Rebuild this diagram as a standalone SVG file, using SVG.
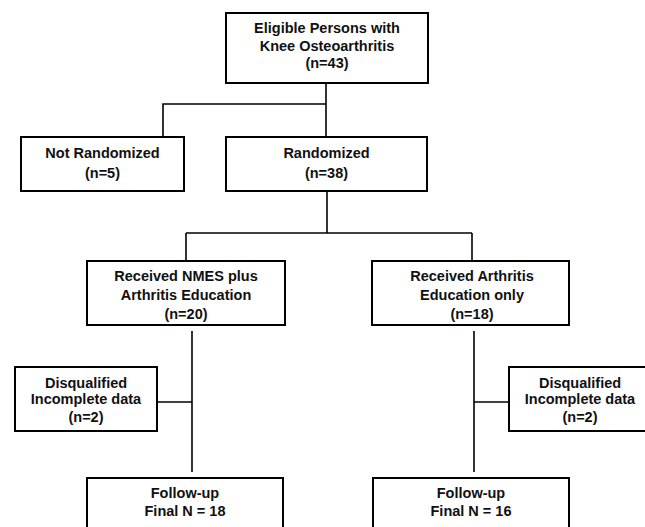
<svg xmlns="http://www.w3.org/2000/svg" width="645" height="527" viewBox="0 0 645 527">
<style>
.box{fill:#fff;stroke:#000;stroke-width:2}
.ln{fill:none;stroke:#000;stroke-width:1.6}
text{font-family:"Liberation Sans",Arial,sans-serif;font-size:14.5px;font-weight:bold;fill:#111;text-anchor:middle}
</style>
<rect width="645" height="527" fill="#fff"/>
<g id="connectors">
<path class="ln" d="M326,83 V137"/>
<path class="ln" d="M326,104 H163 V137"/>
<path class="ln" d="M327,191 V233"/>
<path class="ln" d="M186,233 H472"/>
<path class="ln" d="M186,233 V261"/>
<path class="ln" d="M472,233 V261"/>
<path class="ln" d="M192,331 V472"/>
<path class="ln" d="M157,402 H192"/>
<path class="ln" d="M474,331 V472"/>
<path class="ln" d="M474,402 H509"/>
</g>
<g id="eligible">
<rect class="box" x="226" y="13" width="202" height="70"/>
<text x="327" y="33">Eligible Persons with</text>
<text x="327" y="51">Knee Osteoarthritis</text>
<text x="327" y="68">(n=43)</text>
</g>
<g id="not-randomized">
<rect class="box" x="21" y="137" width="163" height="54"/>
<text x="102.5" y="158">Not Randomized</text>
<text x="102.5" y="178">(n=5)</text>
</g>
<g id="randomized">
<rect class="box" x="226" y="137" width="201" height="54"/>
<text x="326.5" y="158">Randomized</text>
<text x="326.5" y="178">(n=38)</text>
</g>
<g id="nmes">
<rect class="box" x="87" y="261" width="198" height="64"/>
<text x="186" y="281">Received NMES plus</text>
<text x="186" y="300">Arthritis Education</text>
<text x="186" y="319">(n=20)</text>
</g>
<g id="education">
<rect class="box" x="372" y="261" width="197" height="64"/>
<text x="472" y="281">Received Arthritis</text>
<text x="472" y="300">Education only</text>
<text x="472" y="319">(n=18)</text>
</g>
<g id="disq-left">
<rect class="box" x="15" y="367" width="142" height="64"/>
<text x="86" y="388">Disqualified</text>
<text x="86" y="404">Incomplete data</text>
<text x="86" y="422">(n=2)</text>
</g>
<g id="disq-right">
<rect class="box" x="509" y="367" width="145" height="64"/>
<text x="580" y="388">Disqualified</text>
<text x="580" y="404">Incomplete data</text>
<text x="580" y="422">(n=2)</text>
</g>
<g id="followup-left">
<rect class="box" x="87" y="478" width="196" height="70"/>
<text x="185" y="498">Follow-up</text>
<text x="185" y="516">Final N = 18</text>
</g>
<g id="followup-right">
<rect class="box" x="373" y="478" width="196" height="70"/>
<text x="471" y="498">Follow-up</text>
<text x="471" y="516">Final N = 16</text>
</g>
</svg>
